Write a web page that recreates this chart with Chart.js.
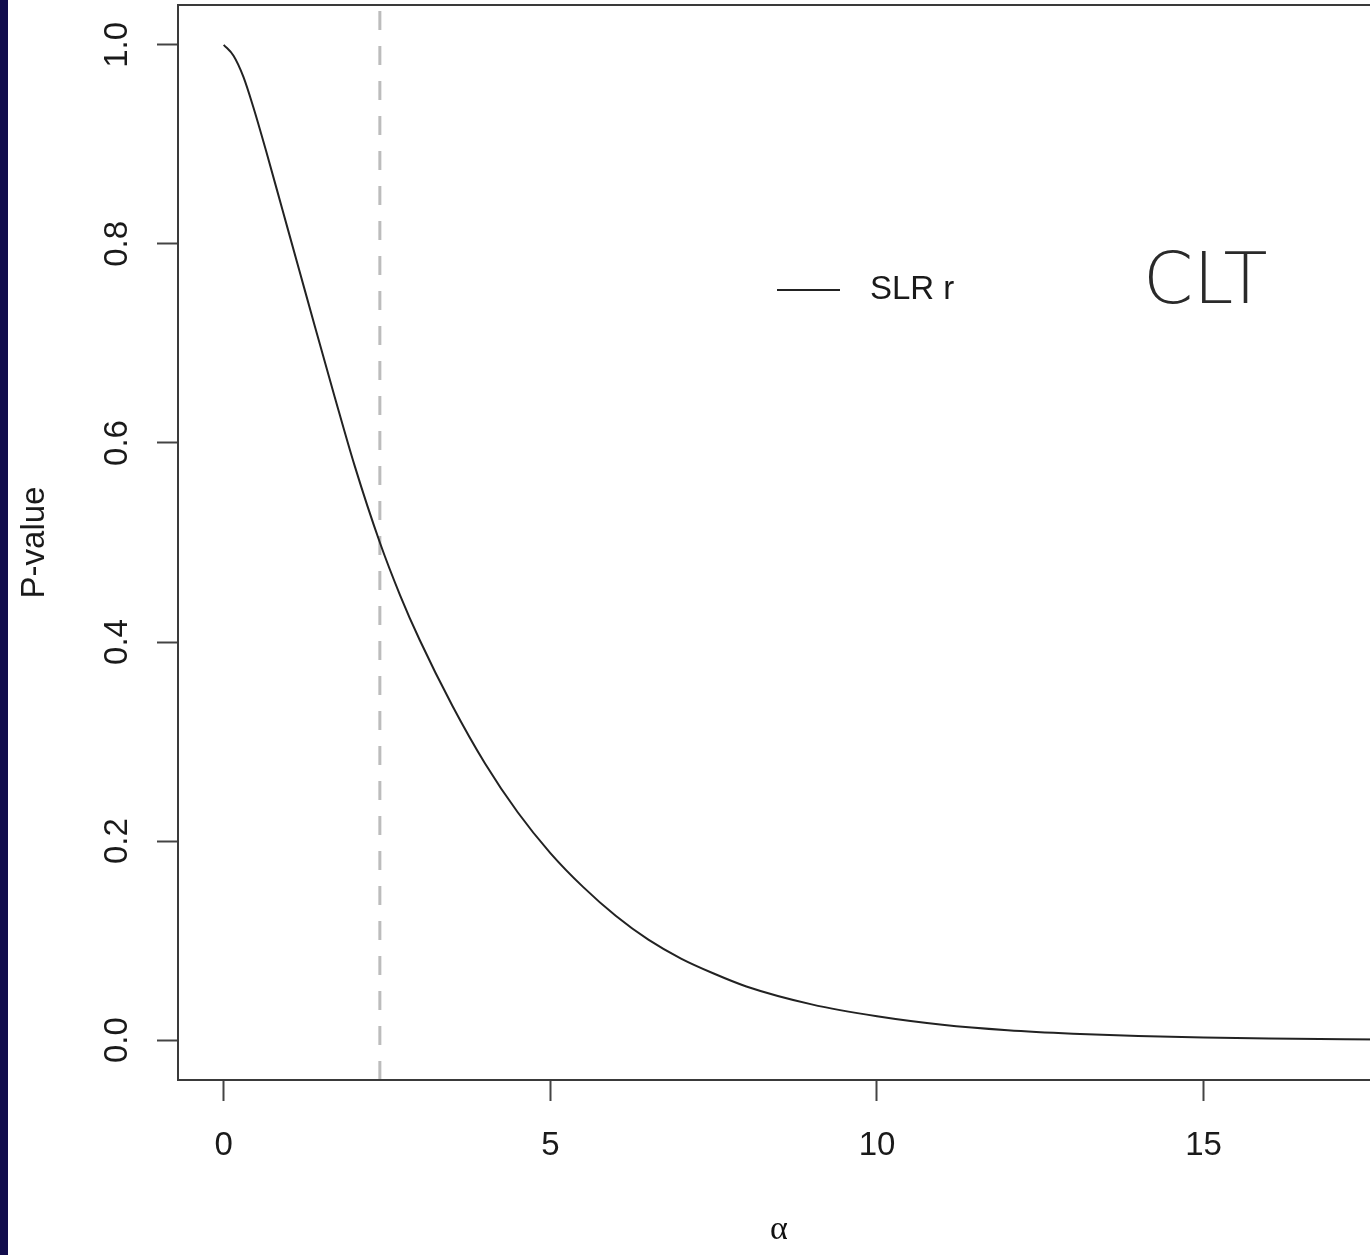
<!DOCTYPE html>
<html>
<head>
<meta charset="utf-8">
<title>P-value vs alpha</title>
<script src="https://cdn.jsdelivr.net/npm/chart.js@4.4.1/dist/chart.umd.min.js"></script>
<style>
  html, body { margin: 0; padding: 0; background: #fff; overflow: hidden; }
  #wrap { position: relative; width: 1370px; height: 1255px; overflow: hidden; }
  #chart { position: absolute; left: 0; top: 0; }
  #edge { position: absolute; left: 0; top: 0; width: 8px; height: 1255px; background: #110c4c; }
</style>
</head>
<body>
<div id="wrap">
  <canvas id="chart" width="1420" height="1255"></canvas>
  <div id="edge"></div>
</div>
<script>
// curve
var alphaValues = [0, 0.15, 0.30, 0.45, 0.65, 0.90, 1.15, 1.40, 1.70, 2.00, 2.39, 2.70, 3.00, 3.50, 4.00,
                   4.50, 5.00, 5.50, 6.00, 6.50, 7.00, 7.50, 8.00, 9.00, 10.00, 11.00, 12.00, 13.00,
                   14.00, 15.00, 16.00, 17.70];
var pValues = [1.000, 0.989, 0.968, 0.938, 0.893, 0.834, 0.775, 0.716, 0.646, 0.578, 0.500, 0.447, 0.402, 0.336, 0.278,
               0.229, 0.188, 0.154, 0.125, 0.101, 0.082, 0.067, 0.054, 0.036, 0.024, 0.0155, 0.0100, 0.0065,
               0.0042, 0.0027, 0.0017, 0.0007];
var cutoff = 2.39;
var xTicks = [0, 5, 10, 15];
var yTicks = [0.0, 0.2, 0.4, 0.6, 0.8, 1.0];
var xRange = [-0.7, 17.7];
var yRange = [-0.04, 1.04];
var seriesName = 'SLR r';
var note = 'CLT';

var FONT = "'Liberation Sans', Arial, sans-serif";

var curve = alphaValues.map(function (a, i) { return { x: a, y: pValues[i] }; });
var vline = [{ x: cutoff, y: yRange[0] }, { x: cutoff, y: yRange[1] }];

// box, rotated y labels, legend and the handwritten note
var extras = {
  id: 'extras',
  afterDraw: function (chart) {
    var ctx = chart.ctx, a = chart.chartArea;
    var ys = chart.scales.y;
    ctx.save();
    ctx.strokeStyle = '#3a3a3a';
    ctx.lineWidth = 2;
    ctx.strokeRect(a.left, a.top, a.right - a.left, a.bottom - a.top);

    ctx.fillStyle = '#1a1a1a';
    ctx.font = '33px ' + FONT;
    ctx.textAlign = 'center';
    ctx.textBaseline = 'middle';
    yTicks.forEach(function (v) {
      ctx.save();
      ctx.translate(118, ys.getPixelForValue(v));
      ctx.rotate(-Math.PI / 2);
      ctx.fillText(v.toFixed(1), 0, 0);
      ctx.restore();
    });

    // legend
    ctx.strokeStyle = '#222';
    ctx.lineWidth = 2;
    ctx.beginPath();
    ctx.moveTo(777, 290);
    ctx.lineTo(840, 290);
    ctx.stroke();
    ctx.textAlign = 'left';
    ctx.fillText(seriesName, 870, 290);

    ctx.fillStyle = '#2a2a2a';
    ctx.font = '200 72px "DejaVu Sans", sans-serif';
    ctx.textBaseline = 'alphabetic';
    ctx.fillText(note, 1143, 303);
    ctx.restore();
  }
};

var ctx = document.getElementById('chart').getContext('2d');
var chart = new Chart(ctx, {
  type: 'scatter',
  data: {
    datasets: [
      {
        label: seriesName,
        data: curve,
        showLine: true,
        borderColor: '#222',
        borderWidth: 2,
        pointRadius: 0,
        cubicInterpolationMode: 'monotone'
      },
      {
        label: 'cutoff',
        data: vline,
        showLine: true,
        borderColor: '#bcbcbc',
        borderWidth: 3,
        borderDash: [19, 16],
        pointRadius: 0
      }
    ]
  },
  options: {
    responsive: false,
    animation: false,
    devicePixelRatio: 1,
    layout: { padding: { left: 0, top: 5, right: 40, bottom: 0 } },
    plugins: { legend: { display: false }, tooltip: { enabled: false } },
    scales: {
      x: {
        type: 'linear',
        min: xRange[0],
        max: xRange[1],
        afterBuildTicks: function (s) { s.ticks = xTicks.map(function (v) { return { value: v }; }); },
        afterFit: function (s) { s.height = 175; },
        border: { display: false },
        grid: { drawOnChartArea: false, drawTicks: true, tickLength: 21, tickWidth: 2, tickColor: '#444' },
        ticks: { color: '#1a1a1a', font: { family: FONT, size: 33 }, padding: 25, maxRotation: 0 },
        title: {
          display: true,
          text: 'α',
          color: '#111',
          font: { family: "'Liberation Serif', 'DejaVu Serif', serif", size: 34 },
          padding: { top: 0, bottom: 5 }
        }
      },
      y: {
        type: 'linear',
        min: yRange[0],
        max: yRange[1],
        afterBuildTicks: function (s) { s.ticks = yTicks.map(function (v) { return { value: v }; }); },
        afterFit: function (s) { s.width = 178; },
        border: { display: false },
        grid: { drawOnChartArea: false, drawTicks: true, tickLength: 21, tickWidth: 2, tickColor: '#444' },
        ticks: { display: false },
        title: {
          display: true,
          text: 'P-value',
          color: '#1a1a1a',
          font: { family: FONT, size: 33 },
          padding: { top: 15, bottom: 0 }
        }
      }
    }
  },
  plugins: [extras]
});
</script>
</body>
</html>
